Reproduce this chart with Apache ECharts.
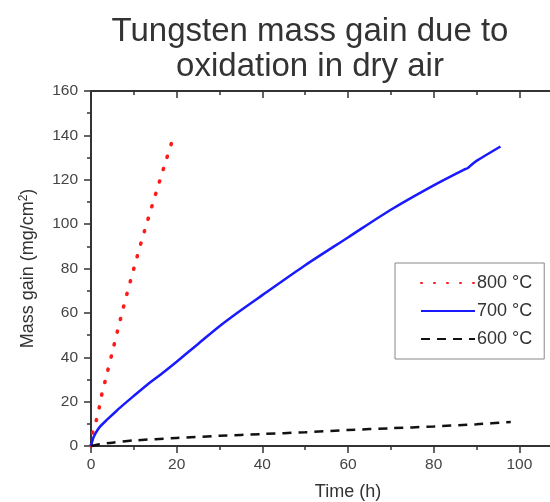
<!DOCTYPE html>
<html>
<head>
<meta charset="utf-8">
<script src="https://cdn.jsdelivr.net/npm/echarts@6/dist/echarts.min.js"></script>
<style>
  html, body { margin: 0; padding: 0; background: #fff; overflow: hidden; }
  #main { width: 550px; height: 502px; }
</style>
</head>
<body>
<div id="main"></div>
<script>
// values (time in h, mass gain in mg/cm2)
const time800 = [0, 0.4, 1.3, 2, 2.6, 3.4, 5, 7.5, 10, 12.5, 15.1, 17.4, 19.2];
const gain800 = [0, 6, 12, 18, 24, 30, 42.5, 62, 80, 97, 113.6, 128, 139];

const time700 = [0, 0.5, 1, 2, 4, 6, 8, 10, 13, 16.5, 20, 25, 30, 35, 40, 50, 60, 70, 80, 87, 88, 89, 90, 95.6];
const gain700 = [0, 3.5, 5.5, 8.5, 12.3, 15.9, 19.3, 22.6, 27.4, 32.6, 38, 46, 54, 61.2, 68, 81.5, 94, 106.5, 117.5, 124.5, 125.3, 127, 128.5, 135];

const time600 = [0, 2, 5, 10, 20, 30, 40, 50, 60, 70, 80, 90, 98];
const gain600 = [0, 0.8, 1.5, 2.5, 3.6, 4.6, 5.4, 6.2, 7.2, 8.0, 8.8, 9.8, 10.8];

const seriesNames = ['800 °C', '700 °C', '600 °C'];
const xTicks = [0, 20, 40, 60, 80, 100, 120];
const yTicks = [0, 20, 40, 60, 80, 100, 120, 140, 160];

const pairs = (xs, ys) => xs.map((x, i) => [x, ys[i]]);

const chart = echarts.init(document.getElementById('main'), null, { renderer: 'canvas' });

const font = 'Liberation Sans, Arial, Helvetica, sans-serif';
const axisColor = '#333';

const bottomAxis = {
  type: 'value',
  position: 'bottom',
  min: xTicks[0],
  max: xTicks[xTicks.length - 1],
  interval: xTicks[1] - xTicks[0],
  name: 'Time (h)',
  nameLocation: 'middle',
  nameGap: 37,
  nameTextStyle: { fontFamily: font, fontSize: 18, color: '#333' },
  axisLine: { lineStyle: { color: axisColor, width: 2 } },
  axisTick: { length: 7, lineStyle: { color: axisColor, width: 1.5 } },
  minorTick: { show: true, splitNumber: 2, length: 4, lineStyle: { color: axisColor, width: 1.5 } },
  axisLabel: { fontFamily: font, fontSize: 15.5, color: '#444', margin: 11 },
  splitLine: { show: false }
};

// top frame line, ticks pointing into the plot
const topAxis = {
  type: 'value',
  position: 'top',
  min: xTicks[0],
  max: xTicks[xTicks.length - 1],
  interval: xTicks[1] - xTicks[0],
  axisLine: { show: true, lineStyle: { color: axisColor, width: 2 } },
  axisTick: { inside: true, length: 7, lineStyle: { color: axisColor, width: 1.5 } },
  minorTick: { show: true, splitNumber: 2, length: 4, lineStyle: { color: axisColor, width: 1.5 } },
  axisLabel: { show: false },
  splitLine: { show: false }
};

const option = {
  backgroundColor: '#fff',
  animation: false,
  title: {
    text: 'Tungsten mass gain due to\noxidation in dry air',
    left: 305,
    top: 9,
    textAlign: 'center',
    textStyle: { fontFamily: font, fontSize: 33, fontWeight: 'normal', color: '#333', lineHeight: 35 }
  },
  // 0..120 h over 514 px, so 100 h lands at x = 519 and the axis runs past the right edge
  grid: { left: 91, top: 91, bottom: 56, width: 514, containLabel: false, outerBoundsMode: 'none' },
  legend: {
    data: seriesNames,
    orient: 'vertical',
    left: 395,
    top: 263,
    padding: [11, 12, 11, 25],
    itemGap: 10,
    itemWidth: 54,
    itemHeight: 14,
    borderColor: '#888',
    borderWidth: 1,
    itemStyle: { opacity: 0 },
    textStyle: { fontFamily: font, fontSize: 18, color: '#333', padding: [0, 0, 0, -3] }
  },
  xAxis: [bottomAxis, topAxis],
  yAxis: {
    type: 'value',
    min: yTicks[0],
    max: yTicks[yTicks.length - 1],
    interval: yTicks[1] - yTicks[0],
    name: 'Mass gain (mg/cm{sup|2})',
    nameLocation: 'middle',
    nameGap: 52,
    nameTextStyle: {
      fontFamily: font, fontSize: 18, color: '#333',
      rich: { sup: { fontFamily: font, fontSize: 12, color: '#333', verticalAlign: 'top', padding: [0, 0, 9, 0] } }
    },
    axisLine: { show: true, lineStyle: { color: axisColor, width: 2 } },
    axisTick: { show: true, length: 7, lineStyle: { color: axisColor, width: 1.5 } },
    minorTick: { show: true, splitNumber: 2, length: 4, lineStyle: { color: axisColor, width: 1.5 } },
    axisLabel: { fontFamily: font, fontSize: 15.5, color: '#444', margin: 13 },
    splitLine: { show: false }
  },
  series: [
    {
      name: seriesNames[0],
      type: 'line',
      data: pairs(time800, gain800),
      showSymbol: false,
      symbol: 'none',
      smooth: 0.3,
      color: '#ff1a1a',
      lineStyle: { color: '#ff1a1a', width: 3.6, type: [1, 12], cap: 'round' }
    },
    {
      name: seriesNames[1],
      type: 'line',
      data: pairs(time700, gain700),
      showSymbol: false,
      symbol: 'none',
      smooth: 0.3,
      color: '#1a1aff',
      lineStyle: { color: '#1a1aff', width: 2.5 }
    },
    {
      name: seriesNames[2],
      type: 'line',
      data: pairs(time600, gain600),
      showSymbol: false,
      symbol: 'none',
      smooth: 0.3,
      color: '#111',
      lineStyle: { color: '#111', width: 2.5, type: [9, 7] }
    }
  ]
};

chart.setOption(option);
</script>
</body>
</html>
